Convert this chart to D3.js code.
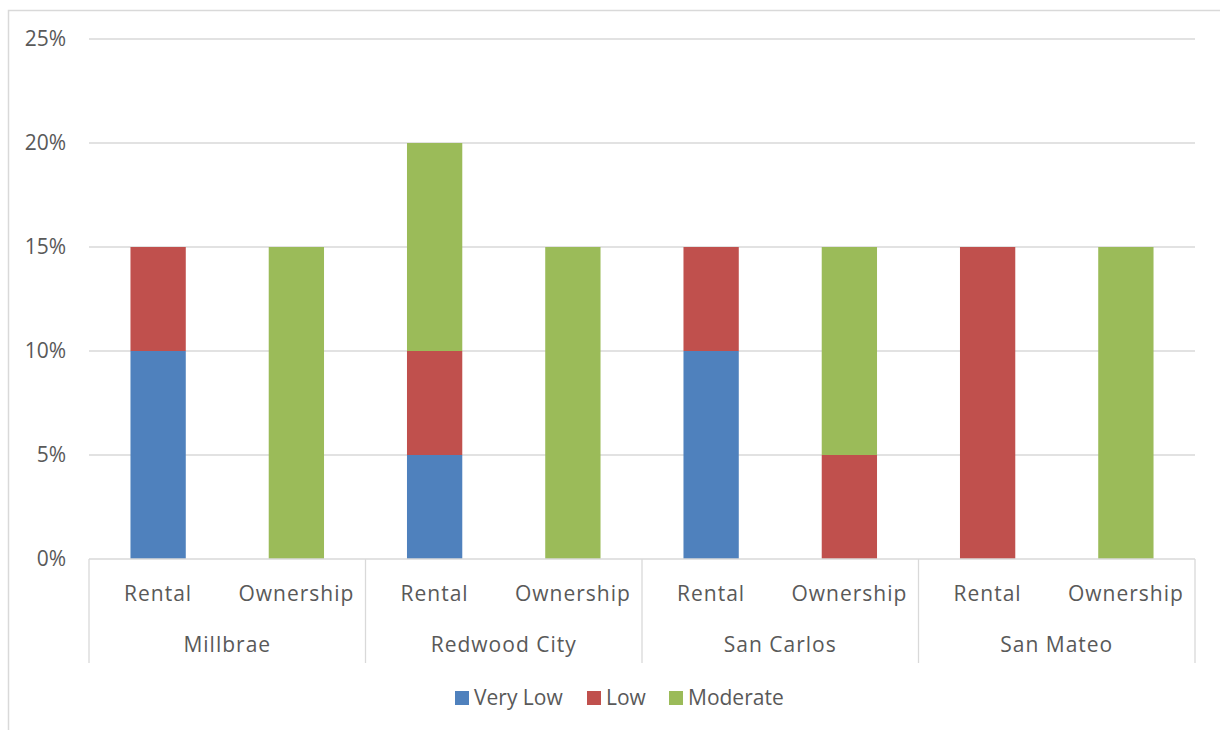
<!DOCTYPE html>
<html>
<head>
<meta charset="utf-8">
<script src="https://cdn.jsdelivr.net/npm/d3@7"></script>
<style>
  body { margin: 0; background: #fff; }
  svg text { font-family: "Open Sans", Lato, sans-serif; fill: #595959; }
</style>
</head>
<body>
<div id="chart"></div>
<script>
// chart values
const cities = ['Millbrae', 'Redwood City', 'San Carlos', 'San Mateo'];
const tenures = ['Rental', 'Ownership'];
const levels = ['Very Low', 'Low', 'Moderate'];
const levelColors = ['#4f81bd', '#c0504d', '#9bbb59'];
// percent, one row per city, one entry per tenure: [Very Low, Low, Moderate]
const veryLow  = [[10, 0], [5, 0], [10, 0], [0, 0]];
const low      = [[5, 0],  [5, 0], [5, 5],  [15, 0]];
const moderate = [[0, 15], [10, 15], [0, 10], [0, 15]];
const yTicks = [0, 5, 10, 15, 20, 25];

const config = {
  width: 1220, height: 730,
  margin: { top: 39, right: 25, bottom: 171, left: 89 }
};
const w = config.width - config.margin.left - config.margin.right;
const h = config.height - config.margin.top - config.margin.bottom;
const fontSize = 21;

const svg = d3.select('#chart').append('svg')
  .attr('width', config.width)
  .attr('height', config.height);

// outer chart border
svg.append('rect')
  .attr('x', 8.5).attr('y', 10.5)
  .attr('width', 1230).attr('height', 740)
  .attr('fill', 'none')
  .attr('stroke', '#d9d9d9')
  .attr('stroke-width', 1.5);

const g = svg.append('g')
  .attr('transform', `translate(${config.margin.left},${config.margin.top})`);

// flatten to rows
const rows = [];
cities.forEach((c, ci) => {
  tenures.forEach((t, ti) => {
    rows.push({ key: c + '|' + t, city: c, tenure: t,
      'Very Low': veryLow[ci][ti], 'Low': low[ci][ti], 'Moderate': moderate[ci][ti] });
  });
});

const xScale = d3.scaleBand()
  .domain(rows.map(d => d.key))
  .range([0, w])
  .paddingInner(0.6)
  .paddingOuter(0.3);

const cityScale = d3.scaleBand()
  .domain(cities)
  .range([0, w]);

const yScale = d3.scaleLinear()
  .domain([0, 25])
  .range([h, 0]);

// gridlines
g.append('g').selectAll('line')
  .data(yTicks.filter(d => d > 0))
  .join('line')
  .attr('x1', 0).attr('x2', w)
  .attr('y1', d => yScale(d)).attr('y2', d => yScale(d))
  .attr('stroke', '#d9d9d9')
  .attr('stroke-width', 1.3);

// y axis labels
const yAxis = d3.axisLeft(yScale)
  .tickValues(yTicks)
  .tickFormat(d => d + '%')
  .tickSize(0)
  .tickPadding(23);
const yAxisGroup = g.append('g').call(yAxis);
yAxisGroup.select('.domain').remove();
yAxisGroup.selectAll('text')
  .attr('font-size', fontSize)
  .attr('fill', '#595959')
  .attr('font-family', '"Open Sans", Lato, sans-serif');

// stacked bars
const stack = d3.stack().keys(levels);
const series = stack(rows);

g.append('g').selectAll('g')
  .data(series)
  .join('g')
  .attr('fill', (d, i) => levelColors[i])
  .selectAll('rect')
  .data(d => d.filter(s => s[1] - s[0] > 0))
  .join('rect')
  .attr('x', d => xScale(d.data.key))
  .attr('width', xScale.bandwidth())
  .attr('y', d => yScale(d[1]))
  .attr('height', d => yScale(d[0]) - yScale(d[1]));

// category axis
const axisG = g.append('g').attr('transform', `translate(0,${h})`);
axisG.append('line')
  .attr('x1', 0).attr('x2', w)
  .attr('y1', 0).attr('y2', 0)
  .attr('stroke', '#d9d9d9')
  .attr('stroke-width', 1.3);

const bounds = cities.map(c => cityScale(c)).concat([w]);
axisG.selectAll('.sep')
  .data(bounds)
  .join('line')
  .attr('class', 'sep')
  .attr('x1', d => d).attr('x2', d => d)
  .attr('y1', 0).attr('y2', 104)
  .attr('stroke', '#d9d9d9')
  .attr('stroke-width', 1.3);

axisG.selectAll('.sub-label')
  .data(rows)
  .join('text')
  .attr('class', 'sub-label')
  .attr('x', d => xScale(d.key) + xScale.bandwidth() / 2)
  .attr('y', 35)
  .attr('dy', '0.35em')
  .attr('text-anchor', 'middle')
  .attr('font-size', fontSize)
  .attr('letter-spacing', 1)
  .text(d => d.tenure);

axisG.selectAll('.city-label')
  .data(cities)
  .join('text')
  .attr('class', 'city-label')
  .attr('x', d => cityScale(d) + cityScale.bandwidth() / 2)
  .attr('y', 86)
  .attr('dy', '0.35em')
  .attr('text-anchor', 'middle')
  .attr('font-size', fontSize)
  .attr('letter-spacing', 1)
  .text(d => d);

// legend
const legend = svg.append('g').attr('transform', 'translate(455,698)');
const legendOffsets = [0, 132, 214];
const items = legend.selectAll('g')
  .data(levels)
  .join('g')
  .attr('transform', (d, i) => `translate(${legendOffsets[i]},0)`);
items.append('rect')
  .attr('x', 0).attr('y', -7)
  .attr('width', 14).attr('height', 14)
  .attr('fill', (d, i) => levelColors[i]);
items.append('text')
  .attr('x', 19).attr('y', 0)
  .attr('dy', '0.35em')
  .attr('font-size', fontSize)
  .text(d => d);
</script>
</body>
</html>
